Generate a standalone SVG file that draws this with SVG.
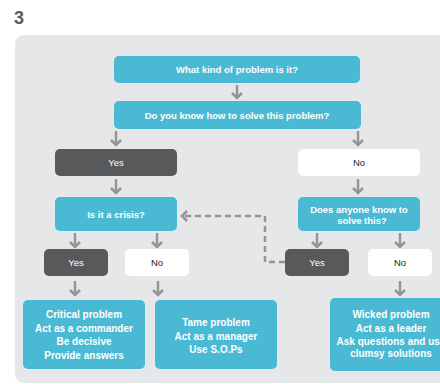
<svg xmlns="http://www.w3.org/2000/svg" width="440" height="384" viewBox="0 0 440 384">
<defs>
<style>
.blue{fill:#4ab9d3}
.dark{fill:#58595b}
.white{fill:#ffffff}
.tb{font-family:"Liberation Sans",Arial,sans-serif;font-weight:bold;fill:#ffffff;text-anchor:middle}
.tw{font-family:"Liberation Sans",Arial,sans-serif;fill:#ffffff;text-anchor:middle;font-size:9.5px}
.tk{font-family:"Liberation Sans",Arial,sans-serif;fill:#231f20;text-anchor:middle;font-size:9.5px}
.arr{fill:none;stroke:#939598;stroke-width:2.5}
.dash{fill:none;stroke:#939598;stroke-width:2.5;stroke-dasharray:6,4}
</style>
</defs>
<rect width="440" height="384" fill="#ffffff"/>
<text x="14" y="24" font-family="'Liberation Sans',Arial,sans-serif" font-size="18" font-weight="bold" fill="#58595b">3</text>
<rect x="15" y="35" width="440" height="348" rx="9" fill="#e6e7e8"/>

<g id="connectors">
<path class="arr" d="M237 85V98M232 93L237 98L242 93"/>
<path class="arr" d="M116 131V145M111 140L116 145L121 140"/>
<path class="arr" d="M358 131V145M353 140L358 145L363 140"/>
<path class="arr" d="M116 179V193M111 188L116 193L121 188"/>
<path class="arr" d="M358 179V193M353 188L358 193L363 188"/>
<path class="arr" d="M75 233V247M70 242L75 247L80 242"/>
<path class="arr" d="M157 233V247M152 242L157 247L162 242"/>
<path class="arr" d="M317 233V247M312 242L317 247L322 242"/>
<path class="arr" d="M400 233V247M395 242L400 247L405 242"/>
<path class="arr" d="M75 281V295M70 290L75 295L80 290"/>
<path class="arr" d="M158 281V295M153 290L158 295L163 290"/>
<path class="arr" d="M400 281V295M395 290L400 295L405 290"/>
<path class="dash" d="M285 262H265V216H184"/>
<path class="arr" d="M187 211L182 216L187 221"/>
</g>

<g id="q1">
<rect class="blue" x="114" y="56" width="246" height="27" rx="5"/>
<text class="tb" x="237" y="73" font-size="9.5">What kind of problem is it?</text>
</g>
<g id="q2">
<rect class="blue" x="114" y="101" width="247" height="28" rx="5"/>
<text class="tb" x="237" y="118.5" font-size="9.5">Do you know how to solve this problem?</text>
</g>
<g id="yes1">
<rect class="dark" x="55" y="149" width="122" height="27" rx="5"/>
<text class="tw" x="116" y="166">Yes</text>
</g>
<g id="no1">
<rect class="white" x="298" y="149" width="122" height="27" rx="5"/>
<text class="tk" x="359" y="166">No</text>
</g>
<g id="crisis">
<rect class="blue" x="55" y="197" width="122" height="34" rx="5"/>
<text class="tb" x="116" y="217.5" font-size="9.5">Is it a crisis?</text>
</g>
<g id="anyone">
<rect class="blue" x="298" y="197" width="122" height="34" rx="5"/>
<text class="tb" x="359" y="212.5" font-size="9.5">Does anyone know to</text>
<text class="tb" x="362" y="224" font-size="9.5">solve this?</text>
</g>
<g id="yes2">
<rect class="dark" x="44" y="249" width="64" height="27" rx="5"/>
<text class="tw" x="76" y="266">Yes</text>
</g>
<g id="no2">
<rect class="white" x="125" y="249" width="64" height="27" rx="5"/>
<text class="tk" x="157" y="266">No</text>
</g>
<g id="yes3">
<rect class="dark" x="285" y="249" width="64" height="27" rx="5"/>
<text class="tw" x="317" y="266">Yes</text>
</g>
<g id="no3">
<rect class="white" x="368" y="249" width="64" height="27" rx="5"/>
<text class="tk" x="400" y="266">No</text>
</g>
<g id="critical">
<rect class="blue" x="23" y="300" width="122" height="69" rx="5"/>
<text class="tb" x="84" y="317.5" font-size="10">Critical problem</text>
<text class="tb" x="84" y="331.5" font-size="10">Act as a commander</text>
<text class="tb" x="84" y="344.5" font-size="10">Be decisive</text>
<text class="tb" x="84" y="358.5" font-size="10">Provide answers</text>
</g>
<g id="tame">
<rect class="blue" x="155" y="300" width="122" height="69" rx="5"/>
<text class="tb" x="216" y="325.5" font-size="10">Tame problem</text>
<text class="tb" x="216" y="339.5" font-size="10">Act as a manager</text>
<text class="tb" x="216" y="352.5" font-size="10">Use S.O.Ps</text>
</g>
<g id="wicked">
<rect class="blue" x="330" y="298" width="122" height="73" rx="5"/>
<text class="tb" x="391" y="317.5" font-size="10">Wicked problem</text>
<text class="tb" x="391" y="331.5" font-size="10">Act as a leader</text>
<text class="tb" x="391" y="344.5" font-size="10">Ask questions and use</text>
<text class="tb" x="391" y="356.5" font-size="10">clumsy solutions</text>
</g>
</svg>
